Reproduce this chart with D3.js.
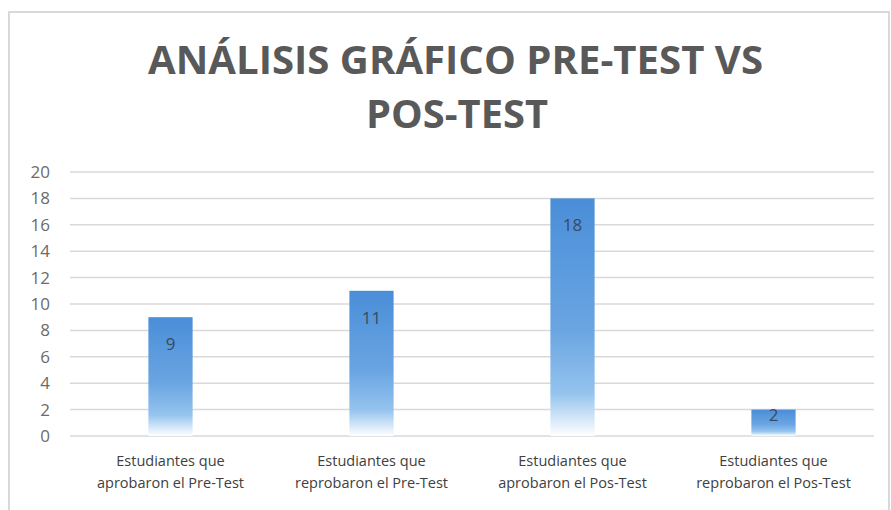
<!DOCTYPE html>
<html>
<head>
  <meta charset="utf-8">
  <script src="https://d3js.org/d3.v7.min.js"></script>
  <style>
    body { margin: 0; background: #fff; }
    text { font-family: "Open Sans", sans-serif; }
  </style>
</head>
<body>
  <div id="chart"></div>
  <script>
    // data
    var categories = [
      ["Estudiantes que", "aprobaron el Pre-Test"],
      ["Estudiantes que", "reprobaron el Pre-Test"],
      ["Estudiantes que", "aprobaron el Pos-Test"],
      ["Estudiantes que", "reprobaron el Pos-Test"]
    ];
    var values = [9, 11, 18, 2];
    var yTicks = [0, 2, 4, 6, 8, 10, 12, 14, 16, 18, 20];
    var titleLines = ["ANÁLISIS GRÁFICO PRE-TEST VS", "POS-TEST"];

    var W = 891, H = 510;
    var margin = { top: 172, right: 17, bottom: 74, left: 70 };

    var svg = d3.select("#chart")
                .append("svg")
                .attr("width", W)
                .attr("height", H);

    // chart frame
    svg.append("rect")
       .attr("x", 9).attr("y", 12)
       .attr("width", 880).attr("height", 520)
       .attr("fill", "#fff")
       .attr("stroke", "#d9d9d9")
       .attr("stroke-width", 2);

    // gradient like the office fill
    var grad = svg.append("defs").append("linearGradient")
                  .attr("id", "barGrad")
                  .attr("x1", 0).attr("y1", 0).attr("x2", 0).attr("y2", 1);
    grad.append("stop").attr("offset", "0%").attr("stop-color", "#4a8ed8");
    grad.append("stop").attr("offset", "55%").attr("stop-color", "#6aa5e2");
    grad.append("stop").attr("offset", "82%").attr("stop-color", "#94c3ee");
    grad.append("stop").attr("offset", "100%").attr("stop-color", "#ffffff");

    var xScale = d3.scaleBand()
                   .domain(d3.range(values.length))
                   .range([margin.left, W - margin.right])
                   .paddingInner(0.78)
                   .paddingOuter(0.39);

    var yScale = d3.scaleLinear()
                   .domain([0, 20])
                   .range([H - margin.bottom, margin.top]);

    // gridlines
    svg.append("g")
       .selectAll("line")
       .data(yTicks)
       .enter()
       .append("line")
       .attr("x1", margin.left)
       .attr("x2", W - margin.right)
       .attr("y1", d => yScale(d))
       .attr("y2", d => yScale(d))
       .attr("stroke", "#d9d9d9")
       .attr("stroke-width", 1.5);

    // y axis labels
    var yAxis = svg.append("g")
       .attr("transform", `translate(${margin.left - 8}, 0)`)
       .call(d3.axisLeft(yScale).tickValues(yTicks).tickSize(0).tickPadding(12));
    yAxis.select(".domain").remove();
    yAxis.selectAll("text")
         .attr("font-family", "Open Sans, sans-serif")
         .attr("font-size", 17)
         .attr("fill", "#6b6b6b");

    // bars
    svg.selectAll("rect.bar")
       .data(values)
       .enter()
       .append("rect")
       .attr("class", "bar")
       .attr("x", (d, i) => xScale(i))
       .attr("y", d => yScale(d))
       .attr("width", xScale.bandwidth())
       .attr("height", d => yScale(0) - yScale(d))
       .attr("fill", "url(#barGrad)");

    // value labels (inside end; short bars keep it near the top)
    svg.selectAll("text.val")
       .data(values)
       .enter()
       .append("text")
       .attr("class", "val")
       .attr("x", (d, i) => xScale(i) + xScale.bandwidth() / 2)
       .attr("y", d => yScale(d) + Math.min(33, (yScale(0) - yScale(d)) * 0.45))
       .attr("text-anchor", "middle")
       .attr("font-size", 17)
       .attr("fill", "#3c4a5e")
       .text(d => d);

    // category labels
    var cat = svg.selectAll("g.cat")
       .data(categories)
       .enter()
       .append("g")
       .attr("class", "cat")
       .attr("transform", (d, i) => `translate(${xScale(i) + xScale.bandwidth() / 2}, 0)`);
    cat.selectAll("text")
       .data(d => d)
       .enter()
       .append("text")
       .attr("x", 0)
       .attr("y", (d, j) => 466 + j * 22)
       .attr("text-anchor", "middle")
       .attr("font-size", 14.5)
       .attr("fill", "#404040")
       .text(d => d);

    // title
    svg.append("text")
       .attr("x", 455.5).attr("y", 74)
       .attr("text-anchor", "middle")
       .attr("font-size", 40)
       .attr("font-weight", "bold")
       .attr("fill", "#595959")
       .attr("textLength", 615)
       .attr("lengthAdjust", "spacingAndGlyphs")
       .text(titleLines[0]);
    svg.append("text")
       .attr("x", 457).attr("y", 128)
       .attr("text-anchor", "middle")
       .attr("font-size", 40)
       .attr("font-weight", "bold")
       .attr("fill", "#595959")
       .attr("textLength", 182)
       .attr("lengthAdjust", "spacingAndGlyphs")
       .text(titleLines[1]);
  </script>
</body>
</html>
